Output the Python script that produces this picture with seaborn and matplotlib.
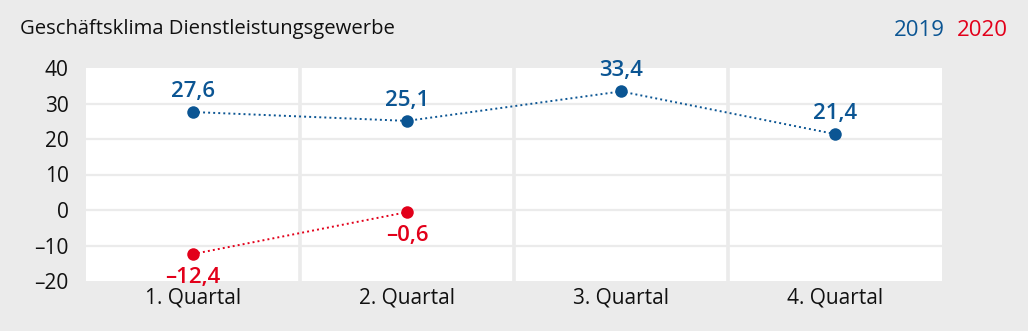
import matplotlib
matplotlib.use("Agg")
import matplotlib.pyplot as plt
import seaborn as sns
import pandas as pd

quarters = ["1. Quartal", "2. Quartal", "3. Quartal", "4. Quartal"]
values_2019 = [27.6, 25.1, 33.4, 21.4]
values_2020 = [-12.4, -0.6]
y_ticks = [-20, -10, 0, 10, 20, 30, 40]

BLUE = "#0b5593"
RED = "#e2001a"
BG = "#ebebeb"

sns.set_theme(style="white")
plt.rcParams["font.family"] = ["Open Sans", "DejaVu Sans"]

df = pd.concat([
    pd.DataFrame({"pos": range(len(values_2019)), "wert": values_2019, "jahr": "2019"}),
    pd.DataFrame({"pos": range(len(values_2020)), "wert": values_2020, "jahr": "2020"}),
])

fig = plt.figure(figsize=(10.28, 3.31), dpi=100, facecolor=BG)
ax = fig.add_axes([86 / 1028, 1 - 281 / 331, 856 / 1028, 213 / 331])
ax.set_facecolor("white")

# grid: horizontal rules and vertical separators between quarters
for y in y_ticks[1:-1]:
    ax.axhline(y, color=BG, lw=1.6, zorder=1)
for x in [0.5, 1.5, 2.5]:
    ax.axvline(x, color=BG, lw=2.6, zorder=1)

sns.lineplot(data=df, x="pos", y="wert", hue="jahr", palette={"2019": BLUE, "2020": RED},
             marker="o", markersize=9, markeredgewidth=0, linestyle=(0, (1, 1.6)),
             linewidth=1.4, legend=False, ax=ax, zorder=3)

def fmt(v):
    s = f"{abs(v):.1f}".replace(".", ",")
    return ("\u2013" + s) if v < 0 else s

label_kw = dict(ha="center", va="baseline", fontsize=16, fontweight="semibold")
for i, v in enumerate(values_2019):
    ax.annotate(fmt(v), (i, v), xytext=(0, 11), textcoords="offset points",
                color=BLUE, **label_kw)
for i, v in enumerate(values_2020):
    ax.annotate(fmt(v), (i, v), xytext=(0, -21), textcoords="offset points",
                color=RED, **label_kw)

ax.set_xlim(-0.5, 3.5)
ax.set_ylim(-20, 40)
ax.set_xticks(range(len(quarters)))
ax.set_xticklabels(quarters)
ax.set_yticks(y_ticks)
ax.set_yticklabels([str(t).replace("-", "\u2013") for t in y_ticks])
ax.tick_params(axis="both", length=0, labelsize=15, colors="#111111")
ax.tick_params(axis="y", pad=12.5)
ax.tick_params(axis="x", pad=5)
ax.set_xlabel("")
ax.set_ylabel("")
for s in ax.spines.values():
    s.set_visible(False)

fig.text(20 / 1028, 1 - 29 / 331, "Geschäftsklima Dienstleistungsgewerbe",
         fontsize=14.6, color="#111111", va="center", ha="left")
fig.text(945 / 1028, 1 - 31 / 331, "2019", fontsize=16, color=BLUE, va="center", ha="right")
fig.text(957 / 1028, 1 - 31 / 331, "2020", fontsize=16, color=RED, va="center", ha="left")

fig.savefig("out.png", dpi=100, facecolor=BG)
